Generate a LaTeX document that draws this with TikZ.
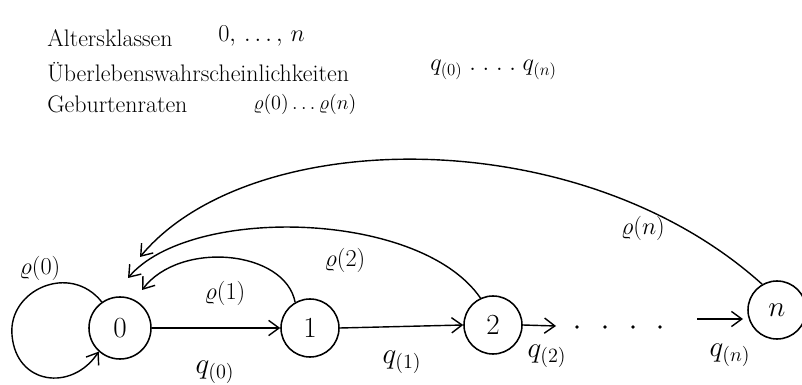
\documentclass[tikz,border=0pt]{standalone}
\usepackage{amsmath}
\usepackage{tikz}
\usetikzlibrary{arrows.meta}

\begin{document}
\begin{tikzpicture}[x=0.025cm,y=-0.025cm,
  txt/.style={anchor=west,inner sep=0pt,font=\fontsize{17}{19}\selectfont},
  state/.style={circle,draw,line width=1.1pt,minimum size=1.45cm,inner sep=0pt,font=\huge},
  lbl/.style={font=\fontsize{19}{22}\selectfont},
  qlbl/.style={font=\fontsize{22}{24}\selectfont},
  arrow/.style={-{Straight Barb[length=2.6mm,width=3.8mm]},line width=1pt}
]
\useasboundingbox (0,0) rectangle (802,385);

% legend at the top
\node[txt] (alt) at (47,38) {Altersklassen};
\node[txt,font=\fontsize{19}{21}\selectfont] (altv) at (218,36) {$0,\,.\,.\,.\,,\,n$};
\node[txt] (ueb) at (47,72) {Überlebenswahrscheinlichkeiten};
\node[txt] (uebv) at (430,70) {$q_{(0)}\;.\;.\;.\;.\;q_{(n)}$};
\node[txt] (geb) at (47,104) {Geburtenraten};
\node[txt,font=\fontsize{15}{17}\selectfont] (gebv) at (253,104) {$\varrho(0)\ldots\varrho(n)$};

% age classes
\node[state,minimum size=1.55cm] (n0) at (120,328) {$0$};
\node[state] (n1) at (310,328) {$1$};
\node[state] (n2) at (493,325) {$2$};
\node[state] (nn) at (777,310) {$n$};
\coordinate (qa) at (556,326);
\coordinate (qb) at (697,319);
\coordinate (t1) at (142,290);
\coordinate (t2) at (128,278);
\coordinate (tn) at (140,257);

% survival
\draw[arrow] (n0.east) -- (n1.west);
\draw[arrow] (n1.east) -- (n2.west);
\draw[arrow] (n2.east) -- (qa);
\draw[arrow,shorten >=3pt] (qb) -- (qb -| nn.west);
\foreach \x in {577,605,633,660}
  \fill (\x,327) circle (1.4pt);
\node[qlbl] (q0) at (215,372) {$q_{(0)}$};
\node[qlbl] (q1) at (402,362) {$q_{(1)}$};
\node[qlbl] (q2) at (547,356) {$q_{(2)}$};
\node[qlbl] (qn) at (730,355) {$q_{(n)}$};

% births
\draw[arrow] (n0.125) .. controls (70,262) and (8,290) .. (12,335)
  .. controls (16,385) and (72,392) .. (n0.228);
\draw[arrow] (n1.120) .. controls (285,250) and (180,240) .. (t1);
\draw[arrow] (n2.115) .. controls (420,210) and (190,205) .. (t2);
\draw[arrow] (nn.120) .. controls (580,120) and (250,125) .. (tn);
\node[lbl] (r0) at (40,268) {$\varrho(0)$};
\node[lbl] (r1) at (225,293) {$\varrho(1)$};
\node[lbl] (r2) at (345,260) {$\varrho(2)$};
\node[lbl] (rn) at (643,228) {$\varrho(n)$};
\end{tikzpicture}
\end{document}
